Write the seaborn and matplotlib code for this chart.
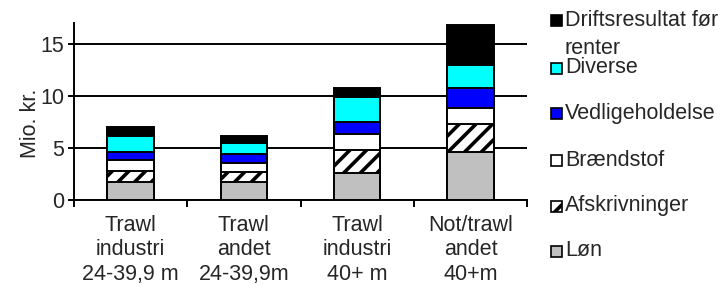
import matplotlib
matplotlib.use("Agg")
import matplotlib.pyplot as plt
from matplotlib.patches import Rectangle
import numpy as np
import pandas as pd
import seaborn as sns

# Data (Mio. kr.)
kategorier = ["Trawl\nindustri\n24-39,9 m", "Trawl\nandet\n24-39,9m",
              "Trawl\nindustri\n40+ m", "Not/trawl\nandet\n40+m"]
loen = [1.75, 1.69, 2.62, 4.57]
afskrivninger = [1.05, 0.96, 2.17, 2.71]
braendstof = [1.03, 0.92, 1.50, 1.50]
vedligeholdelse = [0.80, 0.84, 1.21, 1.98]
diverse = [1.50, 1.02, 2.40, 2.17]
driftsresultat = [0.83, 0.70, 0.86, 3.83]

serier = ["Løn", "Afskrivninger", "Brændstof", "Vedligeholdelse", "Diverse",
          "Driftsresultat før\nrenter"]
vaerdier = [loen, afskrivninger, braendstof, vedligeholdelse, diverse, driftsresultat]
farver = ["#C0C0C0", "white", "white", "#0000FF", "#00FFFF", "black"]
hatches = ["", "//", "", "", "", ""]

sns.set_style("white")
plt.rcParams["font.family"] = ["Liberation Sans", "DejaVu Sans"]
plt.rcParams["hatch.linewidth"] = 2.6
plt.rcParams["hatch.color"] = "black"
FS = 15.5

df = pd.DataFrame({"kategori": kategorier})
for navn, v in zip(serier, vaerdier):
    df[navn] = v
kum = df[serier].cumsum(axis=1)

fig = plt.figure(figsize=(7.26, 2.87), dpi=100)
ax = fig.add_axes([0.102, 0.3031, 0.624, 0.618])

# stacked bars: draw cumulative totals from top layer down
for i in range(len(serier) - 1, -1, -1):
    sns.barplot(x=df["kategori"], y=kum[serier[i]], color=farver[i],
                saturation=1, width=0.41, edgecolor="black", linewidth=1.4,
                hatch=hatches[i] if hatches[i] else None, ax=ax, zorder=3 + (6 - i))

ax.set_ylim(0, 17)
ax.set_xlim(-0.5, len(kategorier) - 0.5)
ax.set_yticks([0, 5, 10, 15])
ax.yaxis.grid(True, color="black", linewidth=1.4)
ax.set_axisbelow(True)
for s in ["top", "right"]:
    ax.spines[s].set_visible(False)
for s in ["left", "bottom"]:
    ax.spines[s].set_color("black")
    ax.spines[s].set_linewidth(1.4)

ax.set_xticks(range(len(kategorier)))
ax.set_xticklabels(kategorier, fontsize=FS)
ax.set_xticks(np.arange(-0.5, len(kategorier), 1.0), minor=True)
ax.tick_params(axis="x", which="major", length=0, pad=11)
ax.tick_params(axis="x", which="minor", length=5, width=1.4, color="black",
               direction="out", bottom=True)
ax.tick_params(axis="y", length=4, width=1.4, color="black", labelsize=FS,
               left=True, pad=3)
ax.set_xlabel("")
ax.set_ylabel("Mio. kr.", fontsize=FS)
ax.yaxis.set_label_coords(-0.073, 0.43)

# legend drawn by hand to mimic the spreadsheet layout
leg_y = [251, 205.7, 160, 113, 67.7, 20]  # px from top
for navn, farve, h, y in zip(serier, farver, hatches, leg_y):
    sq = Rectangle((551 / 726, 1 - (y + 6) / 287), 11 / 726, 11 / 287,
                   transform=fig.transFigure, facecolor=farve, edgecolor="black",
                   linewidth=1.2, hatch=h if h else None)
    fig.add_artist(sq)
    for j, linje in enumerate(navn.split("\n")):
        fig.text(565 / 726, 1 - (y + j * 28) / 287, linje, fontsize=FS,
                 ha="left", va="center")

fig.savefig("out.png", dpi=100)
